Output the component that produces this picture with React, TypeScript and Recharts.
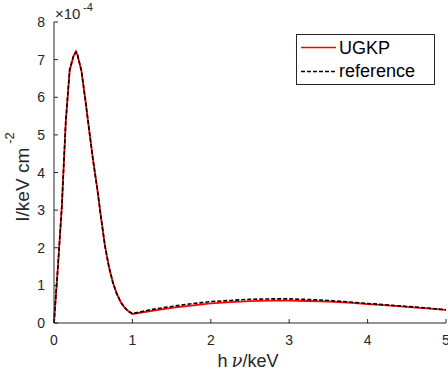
import React from 'react';
import { LineChart, Line, XAxis, YAxis, Legend, Customized } from 'recharts';

// photon energy h·nu (keV)
const energy = [0, 0.05, 0.1, 0.15, 0.2, 0.25, 0.28, 0.3, 0.35, 0.4, 0.45, 0.5, 0.55, 0.6, 0.65, 0.7, 0.75, 0.8, 0.85, 0.9, 0.95, 1.0, 1.25, 1.5, 1.75, 2, 2.25, 2.5, 2.75, 3, 3.25, 3.5, 3.75, 4, 4.25, 4.5, 4.75, 5];
// intensity, in units of 1e-4
const ugkp = [0, 1.5, 3.1, 5.35, 6.7, 7.1, 7.22, 7.12, 6.7, 5.93, 5.1, 4.3, 3.6, 2.8, 2.05, 1.5, 1.08, 0.78, 0.56, 0.41, 0.31, 0.24, 0.32, 0.40, 0.46, 0.52, 0.555, 0.58, 0.593, 0.595, 0.585, 0.57, 0.54, 0.50, 0.47, 0.43, 0.39, 0.35];
const reference = [0, 1.5, 3.1, 5.35, 6.75, 7.1, 7.2, 7.12, 6.7, 5.93, 5.1, 4.3, 3.6, 2.8, 2.05, 1.5, 1.08, 0.78, 0.56, 0.41, 0.31, 0.25, 0.36, 0.44, 0.51, 0.57, 0.6, 0.63, 0.64, 0.64, 0.625, 0.6, 0.56, 0.52, 0.48, 0.44, 0.40, 0.35];
const xTicks = [0, 1, 2, 3, 4, 5];
const yTicks = [0, 1, 2, 3, 4, 5, 6, 7, 8];

const data = energy.map((x, i) => ({ x, ugkp: ugkp[i], reference: reference[i] }));

const AX = '#262626';
const FONT = '"Liberation Sans", Arial, Helvetica, sans-serif';

const BottomTick = (p: any) => (
  <g>
    <line x1={p.x} y1={p.y} x2={p.x} y2={p.y - 4} stroke={AX} strokeWidth={1} />
    <text x={p.x} y={p.y + 22} textAnchor="middle" fontSize={14} fill={AX} fontFamily={FONT}>{p.payload.value}</text>
  </g>
);
const TopTick = (p: any) => (
  <line x1={p.x} y1={p.y} x2={p.x} y2={p.y + 4} stroke={AX} strokeWidth={1} />
);
const LeftTick = (p: any) => (
  <g>
    <line x1={p.x} y1={p.y} x2={p.x + 4} y2={p.y} stroke={AX} strokeWidth={1} />
    <text x={p.x - 9} y={p.y + 5} textAnchor="end" fontSize={14} fill={AX} fontFamily={FONT}>{p.payload.value}</text>
  </g>
);
const RightTick = (p: any) => (
  <line x1={p.x} y1={p.y} x2={p.x - 4} y2={p.y} stroke={AX} strokeWidth={1} />
);

const Labels = () => (
  <g fontFamily={FONT} fill={AX}>
    <text x={55} y={18.5} fontSize={15}>×10</text>
    <text x={83} y={11} fontSize={11}>-4</text>
    <text transform="translate(29,221.7) rotate(-90)" fontSize={19}>
      I/keV cm<tspan dx={4} dy={-15} fontSize={13}>-2</tspan>
    </text>
    <text x={248} y={367} textAnchor="middle" fontSize={18}>
      h<tspan dx={4} fontStyle="italic" fontFamily="'DejaVu Serif', serif">ν</tspan>/keV
    </text>
  </g>
);

const LegendBox = () => (
  <div style={{ width: 139, height: 51, boxSizing: 'border-box', border: `1px solid ${AX}`, background: '#fff' }}>
    <svg width={137} height={49} style={{ display: 'block' }}>
      <line x1={4} y1={12.5} x2={39} y2={12.5} stroke="#ff0000" strokeWidth={1.5} />
      <text x={42} y={18.5} fontSize={18} fontFamily={FONT} fill="#000">UGKP</text>
      <line x1={4} y1={36.5} x2={39} y2={36.5} stroke="#000" strokeWidth={1.5} strokeDasharray="4 2" />
      <text x={42} y={41.5} fontSize={18} fontFamily={FONT} fill="#000">reference</text>
    </svg>
  </div>
);

export default function App() {
  return (
    <div style={{ position: 'absolute', left: 0, top: 0, width: 448, height: 376, background: '#fff' }}>
      <LineChart width={448} height={376} data={data} margin={{ top: 22, right: 2, bottom: 23, left: 0 }}>
        <XAxis dataKey="x" type="number" domain={[0, 5]} ticks={xTicks} height={30} tickSize={0} tickMargin={0}
          axisLine={{ stroke: AX }} tickLine={false} tick={BottomTick} interval={0} />
        <XAxis xAxisId="top" orientation="top" dataKey="x" type="number" domain={[0, 5]} ticks={xTicks} height={0}
          tickSize={0} tickMargin={0} axisLine={{ stroke: AX }} tickLine={false} tick={TopTick} interval={0} />
        <YAxis type="number" domain={[0, 8]} ticks={yTicks} width={54} tickSize={0} tickMargin={0}
          axisLine={{ stroke: AX }} tickLine={false} tick={LeftTick} interval={0} />
        <YAxis yAxisId="right" orientation="right" type="number" domain={[0, 8]} ticks={yTicks} width={0}
          tickSize={0} tickMargin={0} axisLine={{ stroke: AX }} tickLine={false} tick={RightTick} interval={0} />
        <Line type="linear" dataKey="ugkp" stroke="#ff0000" strokeWidth={1.8} dot={false} isAnimationActive={false} />
        <Line type="linear" dataKey="reference" stroke="#000" strokeWidth={1.6} strokeDasharray="4 2" dot={false} isAnimationActive={false} />
        <Legend layout="vertical" align="center" verticalAlign="middle" content={LegendBox}
          wrapperStyle={{ position: 'absolute', left: 296, top: 34, width: 139, height: 51 }} />
        <Customized component={Labels} />
      </LineChart>
    </div>
  );
}
